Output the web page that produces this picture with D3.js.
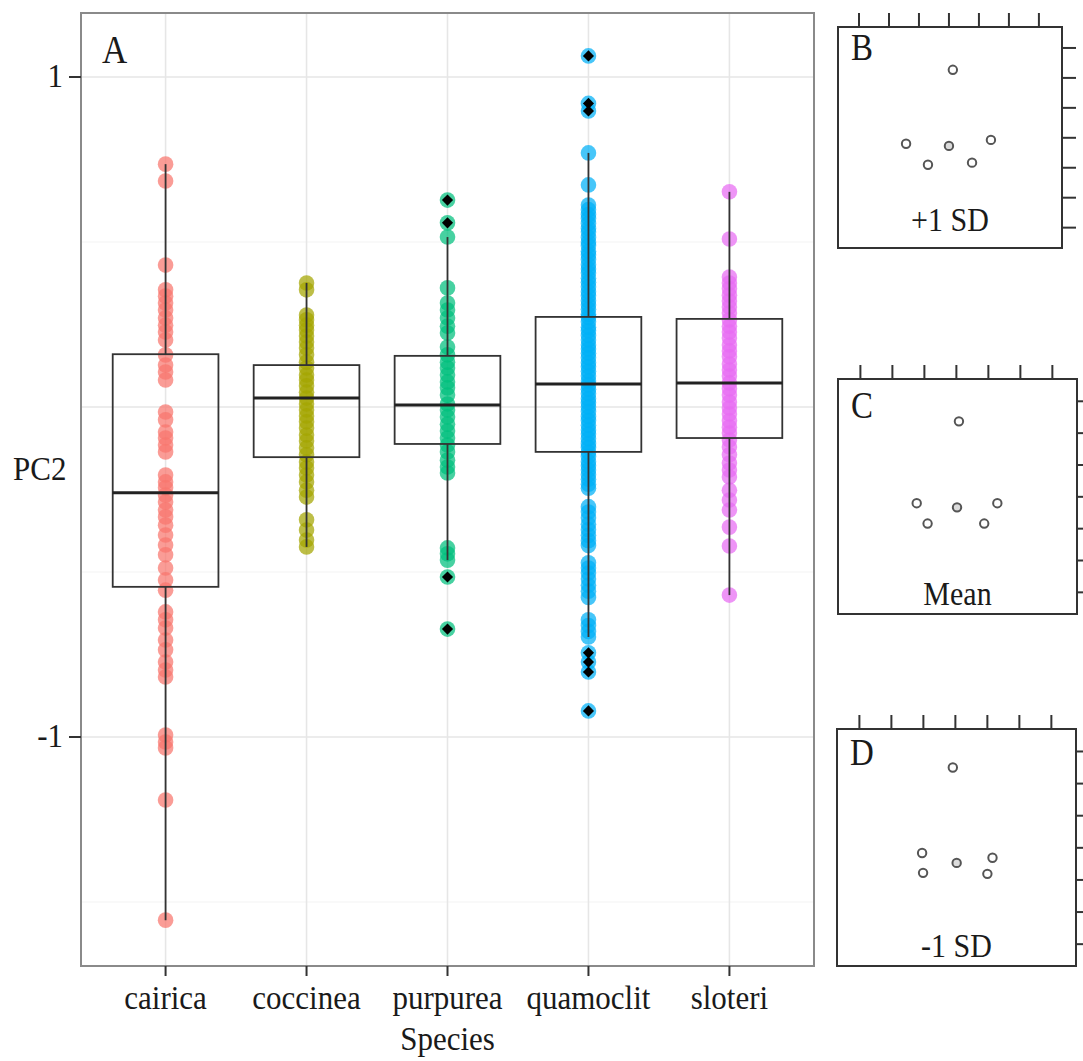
<!DOCTYPE html>
<html>
<head>
<meta charset="utf-8">
<script src="https://cdn.jsdelivr.net/npm/d3@7"></script>
<style>
  body { margin: 0; background: #fff; }
  text { font-family: "Liberation Serif", "DejaVu Serif", serif; fill: #1a1a1a; }
</style>
</head>
<body>
<svg id="svg" width="1083" height="1061"></svg>
<script>
// species and colours (ggplot default hues)
const species = ["cairica", "coccinea", "purpurea", "quamoclit", "sloteri"];
const colors = ["#F8766D", "#A3A500", "#00BF7D", "#00B0F6", "#E76BF3"];

// PC2 scores
const cairica = [0.736, 0.685, 0.430, 0.355, 0.336, 0.315, 0.294, 0.270, 0.248, 0.227, 0.203, 0.158,
  0.127, 0.106, 0.082, -0.015, -0.039, -0.076, -0.094, -0.115, -0.136, -0.206, -0.227, -0.245, -0.267,
  -0.288, -0.312, -0.333, -0.358, -0.388, -0.418, -0.448, -0.488, -0.524, -0.555, -0.621, -0.645,
  -0.670, -0.706, -0.736, -0.773, -0.797, -0.818, -0.994, -1.015, -1.033, -1.191, -1.555];
const coccinea = [0.376, 0.355, 0.279, 0.264, 0.248, 0.233, 0.215, 0.197, 0.179, 0.158, 0.136, 0.118,
  0.097, 0.082, 0.064, 0.045, 0.027, 0.009, -0.009, -0.027, -0.045, -0.064, -0.085, -0.103, -0.124,
  -0.145, -0.167, -0.185, -0.206, -0.227, -0.252, -0.273, -0.342, -0.373, -0.403, -0.424];
const purpurea = [0.627, 0.558, 0.515, 0.361, 0.315, 0.294, 0.270, 0.245, 0.224, 0.182, 0.158, 0.136,
  0.118, 0.097, 0.076, 0.058, 0.036, 0.009, -0.009, -0.030, -0.052, -0.073, -0.094, -0.115, -0.136,
  -0.161, -0.182, -0.200, -0.427, -0.445, -0.464, -0.515, -0.673];
const quamoclit = [1.064, 0.920, 0.897, 0.770, 0.673, 0.612, 0.598, 0.583, 0.571, 0.556, 0.541, 0.530,
  0.514, 0.500, 0.489, 0.472, 0.461, 0.447, 0.431, 0.418, 0.406, 0.390, 0.378, 0.364, 0.349, 0.337,
  0.322, 0.309, 0.296, 0.281, 0.271, 0.258, 0.242, 0.231, 0.217, 0.203, 0.188, 0.176, 0.163, 0.149,
  0.134, 0.122, 0.108, 0.094, 0.079, 0.067, 0.054, 0.040, 0.025, 0.013, 0.000, -0.014, -0.029, -0.041,
  -0.055, -0.070, -0.082, -0.096, -0.111, -0.123, -0.137, -0.150, -0.166, -0.178, -0.191, -0.205,
  -0.219, -0.234, -0.246, -0.302, -0.318, -0.336, -0.355, -0.372, -0.389, -0.405, -0.420, -0.472,
  -0.488, -0.503, -0.521, -0.540, -0.558, -0.577, -0.645, -0.662, -0.680, -0.697, -0.745, -0.773,
  -0.803, -0.921];
const sloteri = [0.652, 0.509, 0.394, 0.376, 0.358, 0.339, 0.321, 0.303, 0.285, 0.264, 0.245, 0.227,
  0.209, 0.188, 0.170, 0.152, 0.130, 0.112, 0.094, 0.073, 0.055, 0.036, 0.015, -0.003, -0.021, -0.042,
  -0.061, -0.079, -0.100, -0.121, -0.145, -0.170, -0.191, -0.212, -0.252, -0.282, -0.312, -0.364,
  -0.421, -0.570];
const scores = [cairica, coccinea, purpurea, quamoclit, sloteri];

// box statistics
const q1 = [-0.545, -0.152, -0.112, -0.136, -0.094];
const medians = [-0.260, 0.027, 0.006, 0.070, 0.073];
const q3 = [0.160, 0.127, 0.155, 0.273, 0.267];
const whiskerLo = [-1.555, -0.424, -0.464, -0.697, -0.570];
const whiskerHi = [0.736, 0.376, 0.515, 0.770, 0.652];
const outliersPurpurea = [0.627, 0.558, -0.515, -0.673];
const outliersQuamoclit = [1.064, 0.920, 0.897, -0.745, -0.773, -0.803, -0.921];
const outliers = [[], [], outliersPurpurea, outliersQuamoclit, []];

const yMajor = [-1, 0, 1];
const yMinor = [-1.5, -0.5, 0.5];
const yLabelled = [-1, 1];

// landmark configurations for the three small panels
const lmB_x = [3.13, 1.57, 3.00, 4.40, 2.30, 3.77];
const lmB_y = [0.73, 3.20, 3.27, 3.07, 3.90, 3.83];
const lmC_x = [3.08, 1.76, 3.02, 4.28, 2.10, 3.87];
const lmC_y = [0.63, 3.20, 3.33, 3.20, 3.84, 3.84];
const lmD_x = [2.92, 1.96, 3.04, 4.16, 1.99, 4.00];
const lmD_y = [0.50, 3.16, 3.47, 3.31, 3.78, 3.81];
const frameTicks = [0, 1, 2, 3, 4, 5, 6];

const svg = d3.select("#svg");

function label(g, x, y, txt, size, anchor) {
  return g.append("text")
    .attr("transform", `translate(${x},${y}) scale(1,1.12)`)
    .attr("text-anchor", anchor || "start")
    .attr("font-size", size)
    .text(txt);
}

// ---- main panel A
const margin = {top: 13, right: 814, bottom: 966, left: 81};
const x = d3.scalePoint().domain(species).range([margin.left, margin.right]).padding(0.6);
const y = d3.scaleLinear().domain([-1.694, 1.194]).range([margin.bottom, margin.top]);
const bw = x.step() * 0.75;

const main = svg.append("g");
main.append("rect")
  .attr("x", margin.left).attr("y", margin.top)
  .attr("width", margin.right - margin.left).attr("height", margin.bottom - margin.top)
  .attr("fill", "#fff");

main.selectAll(".minor").data(yMinor).enter().append("line")
  .attr("x1", margin.left).attr("x2", margin.right)
  .attr("y1", d => y(d)).attr("y2", d => y(d))
  .attr("stroke", "#f3f3f3").attr("stroke-width", 1.2);
main.selectAll(".major").data(yMajor).enter().append("line")
  .attr("x1", margin.left).attr("x2", margin.right)
  .attr("y1", d => y(d)).attr("y2", d => y(d))
  .attr("stroke", "#e6e6e6").attr("stroke-width", 1.6);
main.selectAll(".vgrid").data(species).enter().append("line")
  .attr("x1", d => x(d)).attr("x2", d => x(d))
  .attr("y1", margin.top).attr("y2", margin.bottom)
  .attr("stroke", "#e6e6e6").attr("stroke-width", 1.6);

// points
species.forEach((sp, i) => {
  main.selectAll(".pt" + i).data(scores[i]).enter().append("circle")
    .attr("cx", x(sp)).attr("cy", d => y(d)).attr("r", 7.8)
    .attr("fill", colors[i]).attr("fill-opacity", 0.72);
});

// boxes and whiskers
species.forEach((sp, i) => {
  const cx = x(sp);
  const g = main.append("g").attr("stroke", "#333").attr("fill", "none");
  g.append("line").attr("x1", cx).attr("x2", cx)
    .attr("y1", y(q3[i])).attr("y2", y(whiskerHi[i])).attr("stroke-width", 1.8);
  g.append("line").attr("x1", cx).attr("x2", cx)
    .attr("y1", y(q1[i])).attr("y2", y(whiskerLo[i])).attr("stroke-width", 1.8);
  g.append("rect").attr("x", cx - bw / 2).attr("width", bw)
    .attr("y", y(q3[i])).attr("height", y(q1[i]) - y(q3[i])).attr("stroke-width", 1.8);
  g.append("line").attr("x1", cx - bw / 2).attr("x2", cx + bw / 2)
    .attr("y1", y(medians[i])).attr("y2", y(medians[i])).attr("stroke-width", 3).attr("stroke", "#222");
});

// outliers as black diamonds
const diamond = d3.symbol().type(d3.symbolSquare).size(62);
species.forEach((sp, i) => {
  main.selectAll(".out" + i).data(outliers[i]).enter().append("path")
    .attr("d", diamond)
    .attr("transform", d => `translate(${x(sp)},${y(d)}) rotate(45)`)
    .attr("fill", "#000");
});

main.append("rect")
  .attr("x", margin.left).attr("y", margin.top)
  .attr("width", margin.right - margin.left).attr("height", margin.bottom - margin.top)
  .attr("fill", "none").attr("stroke", "#8a8a8a").attr("stroke-width", 2);

// axes ticks and labels
main.selectAll(".xt").data(species).enter().append("line")
  .attr("x1", d => x(d)).attr("x2", d => x(d))
  .attr("y1", margin.bottom).attr("y2", margin.bottom + 10)
  .attr("stroke", "#333").attr("stroke-width", 2);
species.forEach(sp => label(main, x(sp), 1009, sp, 31, "middle"));
label(main, (margin.left + margin.right) / 2, 1050, "Species", 31, "middle");

main.selectAll(".yt").data(yLabelled).enter().append("line")
  .attr("x1", margin.left - 12).attr("x2", margin.left)
  .attr("y1", d => y(d)).attr("y2", d => y(d))
  .attr("stroke", "#333").attr("stroke-width", 2);
yLabelled.forEach(v => label(main, 63, y(v) + 10, v === -1 ? "-1" : "1", 31, "end"));
label(main, 13, 480, "PC2", 31, "start");
label(main, 102, 63, "A", 35, "start");

// ---- small landmark panels
const panels = [
  {xs: lmB_x, ys: lmB_y, tag: "B", caption: "+1 SD", box: [838, 1062, 27, 248], tagY: 60, capY: 231},
  {xs: lmC_x, ys: lmC_y, tag: "C", caption: "Mean", box: [838, 1077, 379, 614], tagY: 418, capY: 605},
  {xs: lmD_x, ys: lmD_y, tag: "D", caption: "-1 SD", box: [837, 1076, 729, 966], tagY: 765, capY: 957}
];

panels.forEach(p => {
  const [x0, x1, y0, y1] = p.box;
  const px = d3.scaleLinear().domain([-0.7, 6.77]).range([x0, x1]);
  const py = d3.scaleLinear().domain([-0.7, 6.68]).range([y0, y1]);
  const g = svg.append("g");
  g.append("rect").attr("x", x0).attr("y", y0).attr("width", x1 - x0).attr("height", y1 - y0)
    .attr("fill", "#fff").attr("stroke", "#333").attr("stroke-width", 2);
  g.selectAll(".tt").data(frameTicks).enter().append("line")
    .attr("x1", d => px(d)).attr("x2", d => px(d))
    .attr("y1", y0).attr("y2", y0 - 14)
    .attr("stroke", "#333").attr("stroke-width", 2);
  g.selectAll(".rt").data(frameTicks).enter().append("line")
    .attr("x1", x1).attr("x2", x1 + 14)
    .attr("y1", d => py(d)).attr("y2", d => py(d))
    .attr("stroke", "#333").attr("stroke-width", 2);
  g.selectAll(".lm").data(p.xs).enter().append("circle")
    .attr("cx", d => px(d)).attr("cy", (d, i) => py(p.ys[i])).attr("r", 4.2)
    .attr("fill", (d, i) => i === 2 ? "#dcdcdc" : "#fff")
    .attr("stroke", "#555").attr("stroke-width", 2);
  label(g, x0 + 13, p.tagY, p.tag, 33, "start");
  label(g, (x0 + x1) / 2, p.capY, p.caption, 30, "middle");
});
</script>
</body>
</html>
